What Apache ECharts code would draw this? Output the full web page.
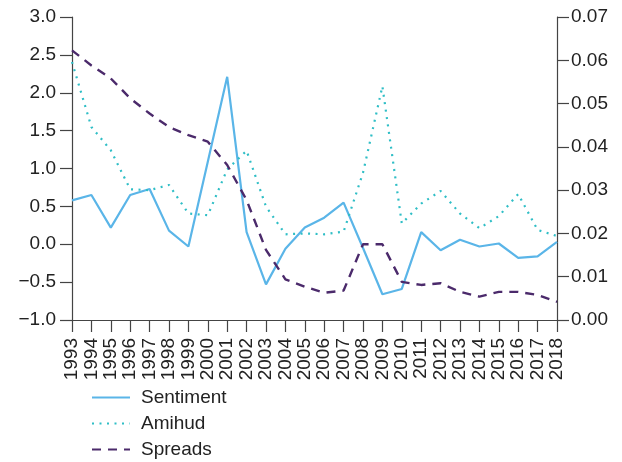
<!DOCTYPE html>
<html>
<head>
<meta charset="utf-8">
<script src="https://cdn.jsdelivr.net/npm/echarts@6/dist/echarts.min.js"></script>
<style>
  html, body { margin: 0; padding: 0; background: #fff; }
  #chart { width: 622px; height: 462px; }
</style>
</head>
<body>
<div id="chart"></div>
<script>
// Annual series, 1993–2018
const years = ['1993','1994','1995','1996','1997','1998','1999','2000','2001','2002','2003','2004','2005',
               '2006','2007','2008','2009','2010','2011','2012','2013','2014','2015','2016','2017','2018'];

// Sentiment index (left axis)
const sentiment = [0.58, 0.65, 0.22, 0.65, 0.73, 0.18, -0.03, 1.09, 2.21, 0.16, -0.53, -0.06, 0.22,
                   0.35, 0.55, -0.05, -0.66, -0.59, 0.16, -0.08, 0.06, -0.03, 0.01, -0.18, -0.16, 0.03];

// Amihud illiquidity (right axis)
const amihud = [0.0596, 0.0446, 0.0392, 0.0302, 0.0300, 0.0312, 0.0246, 0.0242, 0.0348, 0.0391, 0.0262, 0.0198, 0.0200,
                0.0198, 0.0204, 0.0340, 0.0540, 0.0223, 0.0269, 0.0298, 0.0246, 0.0212, 0.0240, 0.0291, 0.0208, 0.0194];

// Bid-ask spreads (right axis)
const spreads = [0.0623, 0.0588, 0.0558, 0.0512, 0.0477, 0.0446, 0.0427, 0.0412, 0.0358, 0.0277, 0.0162, 0.0094, 0.0077,
                 0.0063, 0.0068, 0.0175, 0.0175, 0.0088, 0.0081, 0.0085, 0.0065, 0.0054, 0.0065, 0.0065, 0.0058, 0.0042];

const FONT = '"Liberation Sans", Arial, sans-serif';
const AXIS_COLOR = '#444';
const TEXT_COLOR = '#222';
const TICK_LEN = 12;

const chart = echarts.init(document.getElementById('chart'), null, { renderer: 'canvas' });

chart.setOption({
  animation: false,
  textStyle: { fontFamily: FONT },
  grid: { left: 72, right: 65, top: 17, bottom: 142 },
  legend: {
    orient: 'vertical',
    left: 91,
    top: 388,
    padding: 0,
    itemWidth: 38,
    itemHeight: 20,
    itemGap: 7,
    itemStyle: { opacity: 0 },
    textStyle: { fontFamily: FONT, fontSize: 19, color: TEXT_COLOR, padding: [0, 0, 0, 6] },
    data: ['Sentiment', 'Amihud', 'Spreads']
  },
  xAxis: {
    type: 'category',
    data: years,
    boundaryGap: false,
    axisLine: { onZero: false, lineStyle: { color: AXIS_COLOR, width: 1.2 } },
    axisTick: { show: true, length: TICK_LEN, interval: 0, lineStyle: { color: AXIS_COLOR, width: 1.2 } },
    axisLabel: { interval: 0, rotate: 90, margin: TICK_LEN + 6, fontSize: 19, color: TEXT_COLOR, fontFamily: FONT },
    splitLine: { show: false }
  },
  yAxis: [
    {
      type: 'value',
      min: -1, max: 3, interval: 0.5,
      axisLine: { show: true, lineStyle: { color: AXIS_COLOR, width: 1.2 } },
      axisTick: { show: true, length: TICK_LEN, lineStyle: { color: AXIS_COLOR, width: 1.2 } },
      axisLabel: { margin: TICK_LEN + 4, fontSize: 19, color: TEXT_COLOR, fontFamily: FONT,
                   formatter: v => (v < 0 ? '\u2212' : '') + Math.abs(v).toFixed(1) },
      splitLine: { show: false }
    },
    {
      type: 'value',
      min: 0, max: 0.07, interval: 0.01,
      position: 'right',
      axisLine: { show: true, lineStyle: { color: AXIS_COLOR, width: 1.2 } },
      axisTick: { show: true, length: TICK_LEN, lineStyle: { color: AXIS_COLOR, width: 1.2 } },
      axisLabel: { margin: TICK_LEN + 2, fontSize: 19, color: TEXT_COLOR, fontFamily: FONT,
                   formatter: v => v.toFixed(2) },
      splitLine: { show: false }
    }
  ],
  series: [
    {
      name: 'Sentiment', type: 'line', yAxisIndex: 0, data: sentiment,
      symbol: 'none', color: '#5ab5e8',
      lineStyle: { color: '#5ab5e8', width: 2.2 }
    },
    {
      name: 'Amihud', type: 'line', yAxisIndex: 1, data: amihud,
      symbol: 'none', color: '#2fbec6',
      lineStyle: { color: '#2fbec6', width: 2.2, type: [2, 5.5] }
    },
    {
      name: 'Spreads', type: 'line', yAxisIndex: 1, data: spreads,
      symbol: 'none', color: '#4b2a6b',
      lineStyle: { color: '#4b2a6b', width: 2.4, type: [9, 7] }
    }
  ]
});
</script>
</body>
</html>
